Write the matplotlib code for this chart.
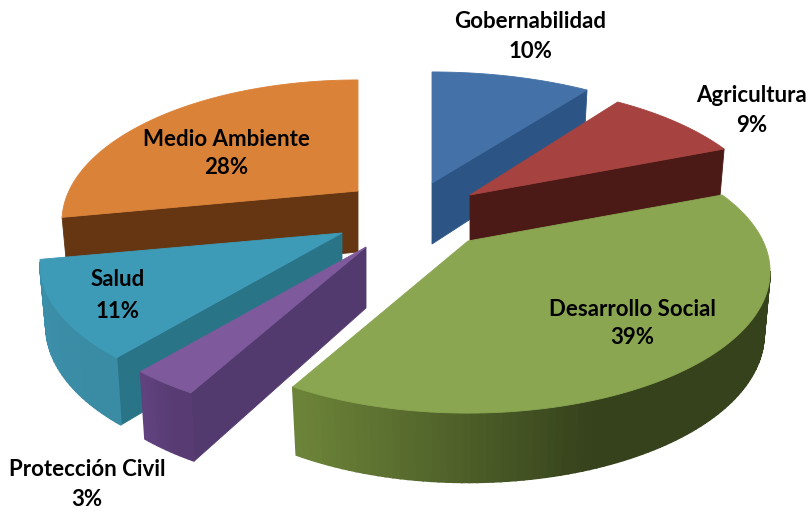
import numpy as np
import matplotlib
matplotlib.use("Agg")
import matplotlib.pyplot as plt
from matplotlib.colors import to_rgb

# --- data ---
categories = ["Gobernabilidad", "Agricultura", "Desarrollo Social",
              "Protección Civil", "Salud", "Medio Ambiente"]
values = [10, 9, 39, 3, 11, 28]

# --- styles and layout ---
top_colors = ["#4472A8", "#A6423F", "#8AA651", "#7E5A9C", "#3D9BB8", "#DB8239"]
wall_colors = ["#2C5585", "#4C1A16", "#566A2C", "#533A6E", "#2A7488", "#653611"]
arc_left = ["#2C5585", "#4C1A16", "#6D8539", "#614280", "#3C8FA9", "#653611"]
arc_right = ["#2C5585", "#4C1A16", "#36421C", "#573B72", "#3A8BA4", "#653611"]
tips = [(432, 183), (470, 195), (468, 241), (366, 247), (342, 233), (358, 191)]
x_scales = [1.05, 1.0, 1.0, 1.0, 1.0, 0.98]
draw_order = [0, 1, 5, 4, 3, 2]
RX, RY, PERSP = 295.0, 135.0, 0.2156
DEPTH, DEPTH_PERSP, TAPER = 61.0, 0.12, 0.02
label_centers = [(530, 21, 51), (752, 95, 125), (632, 309, 338),
                 (87, 470, 499), (118, 280, 311), (226, 139, 168)]
FONT = "Lato"
FONT_SIZE = 16

fig = plt.figure(figsize=(8.09, 5.14), dpi=100, facecolor="white")
ax = fig.add_axes([0, 0, 1, 1])
ax.set_xlim(0, 809)
ax.set_ylim(514, 0)
ax.axis("off")


def project(theta, tip, sx):
    u, v = np.sin(theta), np.cos(theta)
    w = 1 + PERSP * v
    return tip[0] + sx * RX * u / w, tip[1] - RY * v / w, DEPTH / (1 + DEPTH_PERSP * v)


def side(p, q, dp, dq, color, tip, lw=0.6):
    xb = [q[0] - TAPER * (q[0] - tip[0]), p[0] - TAPER * (p[0] - tip[0])]
    ax.fill([p[0], q[0], xb[0], xb[1]], [p[1], q[1], q[1] + dq, p[1] + dp],
            facecolor=color, edgecolor=color, linewidth=lw, zorder=z)


edges = np.cumsum([0] + values) / sum(values) * 2 * np.pi
z = 1
for i in draw_order:
    tip = tips[i]
    thetas = np.linspace(edges[i], edges[i + 1], max(int(values[i] * 3), 12))
    xs, ys, ds = project(thetas, tip, x_scales[i])
    left, right = np.array(to_rgb(arc_left[i])), np.array(to_rgb(arc_right[i]))
    # radial wall at the start of the slice
    if xs[0] < tip[0]:
        side(tip, (xs[0], ys[0]), DEPTH, ds[0], wall_colors[i], tip)
        z += 1
    # radial wall at the end of the slice
    if tip[0] < xs[-1]:
        side((xs[-1], ys[-1]), tip, ds[-1], DEPTH, wall_colors[i], tip)
        z += 1
    # outer rim, drawn as shaded strips overlapping one another
    xmin, xmax = xs.min(), xs.max()
    for j in range(len(thetas) - 1):
        if xs[j + 1] < xs[j]:
            t = np.clip((0.5 * (xs[j] + xs[j + 1]) - xmin) / max(xmax - xmin, 1) * 1.6, 0, 1)
            side((xs[j], ys[j]), (xs[j + 1], ys[j + 1]), ds[j], ds[j + 1],
                 tuple(left * (1 - t) + right * t), tip, lw=1.2)
    z += 1
    # top face
    ax.fill(np.r_[tip[0], xs], np.r_[tip[1], ys], facecolor=top_colors[i],
            edgecolor=top_colors[i], linewidth=0.6, zorder=z)
    z += 1

for name, val, (x, y1, y2) in zip(categories, values, label_centers):
    ax.text(x, y1, name, ha="center", va="center", fontfamily=FONT, fontweight="bold",
            fontsize=FONT_SIZE, color="black", zorder=100)
    ax.text(x, y2, f"{val}%", ha="center", va="center", fontfamily=FONT, fontweight="bold",
            fontsize=FONT_SIZE, color="black", zorder=100)

fig.savefig("out.png", dpi=100, facecolor="white")
